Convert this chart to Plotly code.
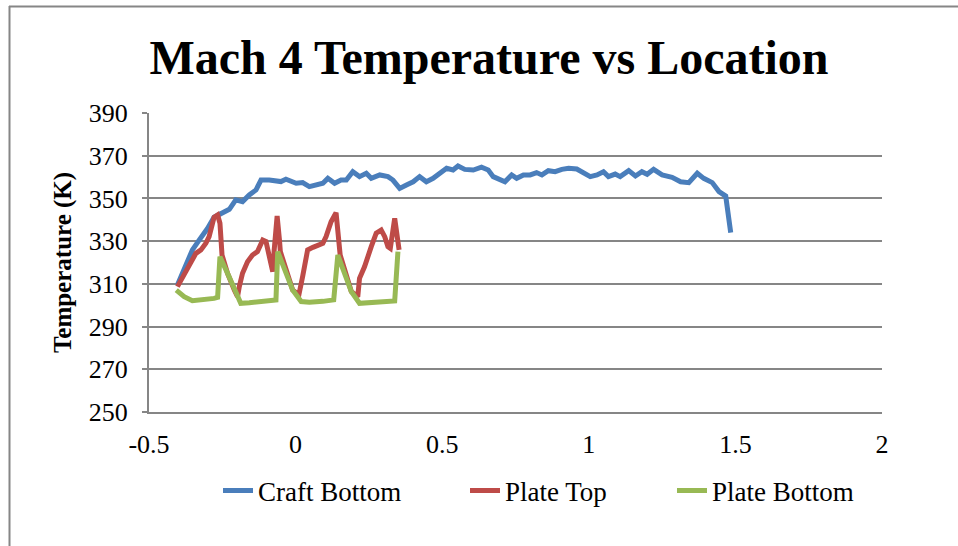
import plotly.graph_objects as go

# ---- data ----
craft_x = [-0.403,-0.375,-0.352,-0.329,-0.300,-0.278,-0.255,-0.226,-0.204,-0.181,-0.158,-0.135,-0.118,-0.090,-0.050,-0.033,0.002,0.024,0.047,0.070,0.093,0.110,0.133,0.155,0.173,0.195,0.218,0.241,0.258,0.287,0.315,0.332,0.355,0.378,0.401,0.423,0.446,0.469,0.492,0.515,0.537,0.554,0.577,0.606,0.634,0.657,0.674,0.697,0.714,0.737,0.754,0.777,0.800,0.822,0.840,0.862,0.885,0.908,0.931,0.959,0.982,1.005,1.028,1.050,1.067,1.090,1.107,1.136,1.159,1.181,1.199,1.221,1.250,1.284,1.313,1.341,1.370,1.392,1.421,1.444,1.467,1.484]
craft_t = [309.5,318.0,325.9,330.5,336.0,341.2,343.0,344.9,349.3,348.5,351.6,354.0,358.6,358.6,357.9,359.0,357.1,357.4,355.5,356.3,357.1,359.4,357.1,358.6,358.6,362.5,360.2,361.8,359.4,361.0,360.2,358.6,354.7,356.3,357.8,360.2,357.8,359.4,361.8,364.1,363.3,365.2,363.6,363.3,364.6,363.3,360.2,358.6,357.8,361.0,359.4,361.0,361.0,362.1,361.0,363.0,362.5,363.6,364.1,363.8,361.8,360.2,361.0,362.5,360.2,361.4,360.2,363.0,360.5,362.5,361.3,363.6,361.0,359.9,357.8,357.4,361.8,359.4,357.4,353.2,351.1,334.0]

ptop_x = [-0.403,-0.386,-0.363,-0.340,-0.323,-0.306,-0.295,-0.286,-0.278,-0.266,-0.258,-0.251,-0.232,-0.209,-0.198,-0.192,-0.181,-0.164,-0.147,-0.130,-0.112,-0.101,-0.090,-0.078,-0.073,-0.063,-0.055,-0.052,-0.010,0.011,0.024,0.041,0.059,0.076,0.093,0.104,0.121,0.138,0.148,0.152,0.190,0.212,0.218,0.235,0.258,0.275,0.292,0.304,0.315,0.323,0.338,0.346,0.353]
ptop_t = [308.7,312.6,318.8,324.3,325.9,329.0,332.1,336.0,341.2,342.3,338.4,323.5,314.9,307.1,304.0,308.7,315.0,320.4,323.5,325.1,330.5,329.8,323.5,315.7,325.9,341.8,330.5,325.1,307.1,304.8,313.4,325.9,327.1,328.2,329.0,332.1,339.1,343.3,330.5,323.5,306.4,304.0,312.6,318.0,327.4,333.7,335.2,332.1,327.4,326.6,340.7,333.7,325.9]

pbot_x = [-0.407,-0.380,-0.352,-0.318,-0.278,-0.266,-0.258,-0.232,-0.209,-0.187,-0.158,-0.112,-0.067,-0.061,-0.038,-0.010,0.019,0.047,0.093,0.130,0.144,0.167,0.190,0.218,0.275,0.338,0.349]
pbot_t = [307.1,304.0,302.1,302.5,303.2,303.7,322.7,314.9,307.1,300.9,301.2,301.8,302.5,325.1,316.5,307.1,301.7,301.4,301.8,302.5,323.5,315.7,306.4,300.9,301.4,302.0,325.1]

series_names = ["Craft Bottom", "Plate Top", "Plate Bottom"]
series_colors = ["#4A7EBB", "#BE4B48", "#98B954"]
x_tickvals = [-0.5, 0, 0.5, 1, 1.5, 2]
x_ticktext = ["-0.5", "0", "0.5", "1", "1.5", "2"]
y_tickvals = [250, 270, 290, 310, 330, 350, 370, 390]

FONT = "Liberation Serif, Times New Roman, serif"
W, H = 958, 546
ML, MR, MT, MB = 149, 76, 113, 134
PW, PH = W - ML - MR, H - MT - MB

def px_to_paper_x(p):
    return (p - ML) / PW

def px_to_paper_y(p):
    return (H - MB - p) / PH

fig = go.Figure()
for xs, ys, name, col, lw in [
    (craft_x, craft_t, series_names[0], series_colors[0], 202),
    (ptop_x, ptop_t, series_names[1], series_colors[1], 162),
    (pbot_x, pbot_t, series_names[2], series_colors[2], 160),
]:
    fig.add_trace(go.Scatter(x=xs, y=ys, mode="lines", name=name,
                             line=dict(color=col, width=5),
                             legendwidth=lw))

gray = "#868686"
fig.update_layout(
    width=W, height=H,
    margin=dict(l=ML, r=MR, t=MT, b=MB),
    paper_bgcolor="white", plot_bgcolor="white",
    font=dict(family=FONT, color="black"),
    title=dict(text="<b>Mach 4 Temperature vs Location</b>",
               font=dict(family=FONT, size=48, color="black"),
               x=489 / W, xref="container", xanchor="center",
               y=1 - 57 / H, yref="container", yanchor="middle"),
    xaxis=dict(range=[-0.5, 2], tickvals=x_tickvals, ticktext=x_ticktext,
               showgrid=False, zeroline=False, showline=True,
               linecolor=gray, linewidth=2, ticks="",
               tickfont=dict(family=FONT, size=26, color="black"),
               ticklabelstandoff=8),
    yaxis=dict(range=[250, 390], tickvals=y_tickvals,
               showgrid=True, gridcolor=gray, gridwidth=2,
               zeroline=False, showline=True, linecolor=gray, linewidth=2,
               ticks="outside", ticklen=5, tickcolor=gray, tickwidth=2,
               tickfont=dict(family=FONT, size=26, color="black"),
               ticklabelstandoff=9,
               title=dict(text="<b>Temperature (K)</b>",
                          font=dict(family=FONT, size=25, color="black"),
                          standoff=10)),
    legend=dict(orientation="h", x=px_to_paper_x(218), xanchor="left",
                y=px_to_paper_y(491), yanchor="middle",
                font=dict(family=FONT, size=27, color="black"),
                bgcolor="rgba(0,0,0,0)"),
    shapes=[
        dict(type="line", xref="paper", yref="paper",
             x0=px_to_paper_x(9.5), x1=px_to_paper_x(9.5),
             y0=px_to_paper_y(6), y1=px_to_paper_y(H + 2),
             line=dict(color=gray, width=2)),
        dict(type="line", xref="paper", yref="paper",
             x0=px_to_paper_x(9), x1=px_to_paper_x(W + 2),
             y0=px_to_paper_y(6.5), y1=px_to_paper_y(6.5),
             line=dict(color=gray, width=2)),
    ],
)

fig.write_html("out.html")
